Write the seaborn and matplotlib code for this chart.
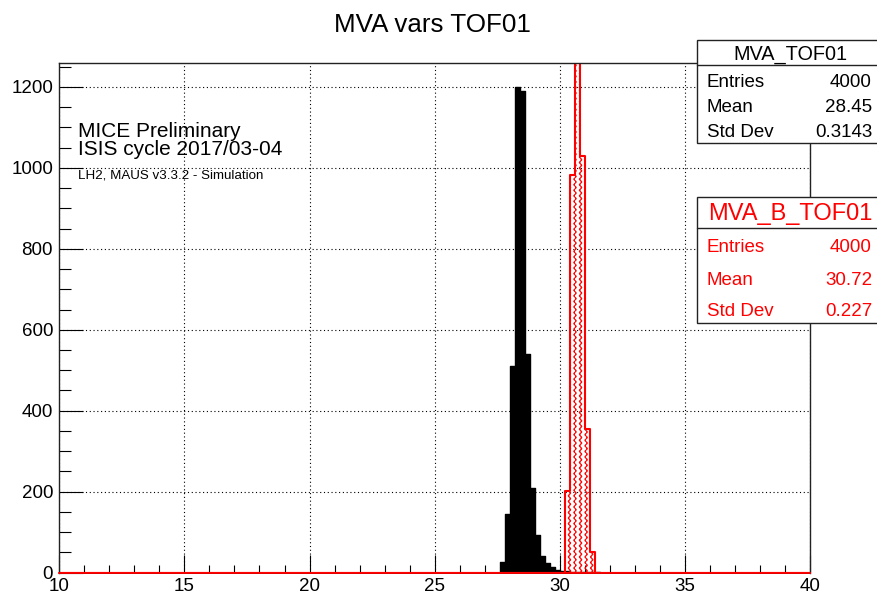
import numpy as np
import pandas as pd
import matplotlib
matplotlib.use("Agg")
import matplotlib.pyplot as plt
import matplotlib.hatch as mhatch
from matplotlib.path import Path
from matplotlib.patches import Rectangle
from matplotlib.lines import Line2D
from matplotlib.ticker import MultipleLocator
import seaborn as sns

# ---------------- data ----------------
x_range = (10.0, 40.0)
bin_width = 0.2
y_max = 1260

black_bin_low = [27.6, 27.8, 28.0, 28.2, 28.4, 28.6, 28.8, 29.0, 29.2, 29.4,
                 29.6, 29.8, 30.0, 30.2, 30.4, 30.6, 30.8, 31.0, 31.2, 31.4]
black_counts = [26, 144, 510, 1200, 1190, 540, 208, 92, 42, 25,
                13, 6, 3, 3, 2, 2, 1, 1, 1, 1]

red_bin_low = [30.2, 30.4, 30.6, 30.8, 31.0, 31.2]
red_counts = [202, 982, 1383, 1028, 355, 50]

title = "MVA vars TOF01"
label_lines = ["MICE Preliminary", "ISIS cycle 2017/03-04", "LH2, MAUS v3.3.2 - Simulation"]
stat_names = ["Entries", "Mean", "Std Dev"]
black_stats = ["4000", "28.45", "0.3143"]
red_stats = ["4000", "30.72", "0.227"]
black_name = "MVA_TOF01"
red_name = "MVA_B_TOF01"
x_major = [10, 15, 20, 25, 30, 35, 40]
y_major = [0, 200, 400, 600, 800, 1000, 1200]


# ---------------- wavy hatch (ROOT-like fill style) ----------------
class WavyHatch(mhatch.HatchPatternBase):
    def __init__(self, hatch, density):
        self.num_lines = int(hatch.count('*') * density)
        self.pts = 8 * self.num_lines
        self.num_vertices = self.num_lines * (self.pts + 1) if self.num_lines else 0

    def set_vertices_and_codes(self, vertices, codes):
        n = self.num_lines
        t = np.linspace(0.0, 1.0, self.pts + 1)
        amp = 0.22 / n
        for i in range(n):
            x0 = (i + 0.5) / n
            s = slice(i * (self.pts + 1), (i + 1) * (self.pts + 1))
            vertices[s, 0] = x0 + amp * np.sin(2 * np.pi * n * t)
            vertices[s, 1] = t
            codes[s] = Path.LINETO
            codes[i * (self.pts + 1)] = Path.MOVETO


mhatch._hatch_types = [WavyHatch if c is mhatch.Stars else c for c in mhatch._hatch_types]

# ---------------- style ----------------
sns.set_style("white")
plt.rcParams["font.family"] = ["Liberation Sans", "DejaVu Sans"]
plt.rcParams["text.color"] = "black"
plt.rcParams["xtick.color"] = "black"
plt.rcParams["ytick.color"] = "black"
plt.rcParams["hatch.color"] = "red"
plt.rcParams["hatch.linewidth"] = 0.75

W, H = 877, 597
fig = plt.figure(figsize=(W / 100, H / 100), dpi=100)


def fx(px):
    return px / W


def fy(py):
    return 1 - py / H


ax_l, ax_r, ax_t, ax_b = 59.3, 810.0, 62.5, 572.7
ax = fig.add_axes([fx(ax_l), fy(ax_b), fx(ax_r - ax_l), (ax_b - ax_t) / H])

df_black = pd.DataFrame({"x": np.array(black_bin_low) + bin_width / 2, "w": black_counts})
df_red = pd.DataFrame({"x": np.array(red_bin_low) + bin_width / 2, "w": red_counts})

ax.set_axisbelow(True)
ax.grid(True, which="major", color="black", linestyle=(0, (1, 2.4)), linewidth=0.8)

sns.histplot(data=df_black, x="x", weights="w", binwidth=bin_width, binrange=x_range,
             element="step", fill=True, color="black", alpha=1, linewidth=1.0, ax=ax)
sns.histplot(data=df_red, x="x", weights="w", binwidth=bin_width, binrange=x_range,
             element="step", fill=True, color="red", facecolor="none", edgecolor="red",
             hatch="***", linewidth=1.5, ax=ax)

ax.set_xlim(*x_range)
ax.set_ylim(0, y_max)
ax.set_xlabel("")
ax.set_ylabel("")
ax.xaxis.set_minor_locator(MultipleLocator(1))
ax.yaxis.set_minor_locator(MultipleLocator(50))
ax.set_xticks(x_major)
ax.set_yticks(y_major)
ax.set_xticklabels([str(v) for v in x_major])
ax.set_yticklabels([str(v) for v in y_major])

ax.tick_params(axis="both", which="both", direction="in", bottom=True, left=True,
               top=False, right=False, colors="black", width=0.8, labelsize=13.5)
ax.tick_params(axis="x", which="major", length=12.7, pad=4)
ax.tick_params(axis="x", which="minor", length=5.5)
ax.tick_params(axis="y", which="major", length=17, pad=4.5)
ax.tick_params(axis="y", which="minor", length=8.6)

for side in ["left", "top", "right"]:
    ax.spines[side].set_color("#222222")
    ax.spines[side].set_linewidth(1.0)
ax.spines["bottom"].set_color("red")
ax.spines["bottom"].set_linewidth(1.3)

# ---------------- title and labels ----------------
fig.text(fx(432), fy(31.7), title, ha="center", va="baseline", fontsize=18.7, color="black")
lab_y = [137.3, 155.0, 178.3]
lab_size = [15, 15, 9.6]
for txt, yy, fs in zip(label_lines, lab_y, lab_size):
    fig.text(fx(78.3), fy(yy), txt, ha="left", va="baseline", fontsize=fs, color="black")


# ---------------- stat boxes ----------------
def stat_box(top, sep, bottom, name, name_base, name_size, rows_base, values, color):
    left, right = 697, 880
    rect = Rectangle((fx(left), fy(bottom)), fx(right - left), (bottom - top) / H,
                     transform=fig.transFigure, facecolor="white", edgecolor="#222222",
                     linewidth=1.0, zorder=5)
    fig.add_artist(rect)
    fig.add_artist(Line2D([fx(left), fx(right)], [fy(sep), fy(sep)],
                          transform=fig.transFigure, color="#222222", linewidth=1.0, zorder=6))
    fig.text(fx(790), fy(name_base), name, ha="center", va="baseline",
             fontsize=name_size, color=color, zorder=7)
    for nm, val, yb in zip(stat_names, values, rows_base):
        fig.text(fx(707), fy(yb), nm, ha="left", va="baseline", fontsize=13.5, color=color, zorder=7)
        fig.text(fx(872), fy(yb), val, ha="right", va="baseline", fontsize=13.5, color=color, zorder=7)


stat_box(40, 65, 143, black_name, 59.3, 14.3, [86.7, 111.7, 136.7], black_stats, "black")
stat_box(197, 228, 323, red_name, 220, 17, [251.7, 285, 316], red_stats, "red")

fig.savefig("out.png", dpi=100)
